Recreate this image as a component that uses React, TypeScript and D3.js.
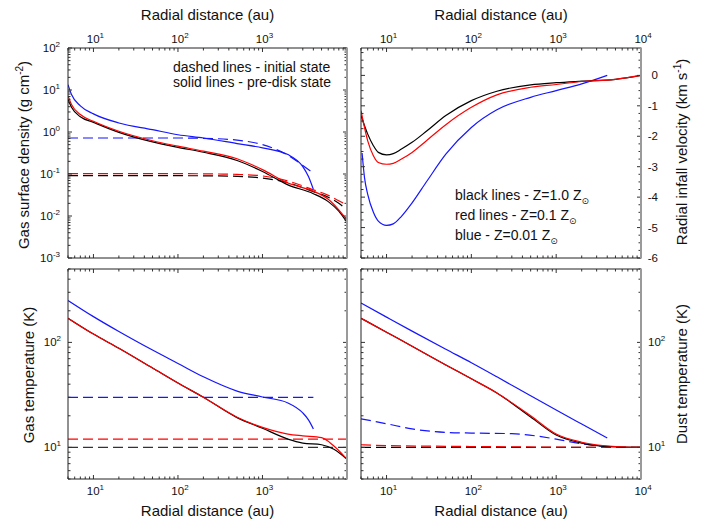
import React from "react";
import * as d3 from "d3";

const FONT = "Arial, 'Liberation Sans', Helvetica, sans-serif";

// ---------- Gas surface density (g cm^-2) ----------
const sigBlueR = [5, 5.5, 7, 10, 20, 50, 100, 200, 500, 1000, 2000, 3000, 3500, 4000];
const sigBlueSolid = [13.4, 7.8, 4.2, 2.7, 1.64, 1.14, 0.86, 0.72, 0.53, 0.42, 0.29, 0.15, 0.087, 0.043];
const sigBlueDashR = [5, 100, 300, 500, 1000, 2000, 3000, 4000];
const sigBlueDash = [0.72, 0.72, 0.69, 0.64, 0.5, 0.28, 0.16, 0.105];
const sigR = [5, 5.5, 7, 10, 20, 50, 100, 200, 500, 1000, 2000, 4000, 6000, 8000, 10000];
const sigRedSolid = [7.3, 4.5, 2.6, 1.8, 1.04, 0.62, 0.46, 0.35, 0.23, 0.127, 0.061, 0.039, 0.025, 0.014, 0.008];
const sigBlackSolid = [6.0, 3.9, 2.3, 1.7, 0.98, 0.58, 0.43, 0.33, 0.21, 0.115, 0.055, 0.034, 0.022, 0.013, 0.007];
const sigDashR = [5, 100, 300, 500, 1000, 2000, 4000, 6000, 8000, 10000];
const sigRedDash = [0.102, 0.102, 0.1, 0.098, 0.09, 0.068, 0.042, 0.031, 0.023, 0.018];
const sigBlackDash = [0.091, 0.091, 0.09, 0.088, 0.08, 0.062, 0.038, 0.028, 0.02, 0.014];

// ---------- Radial infall velocity (km s^-1) ----------
const velR = [5, 6, 7, 8, 10, 12, 15, 20, 30, 50, 100, 200, 500, 1000, 2000, 5000, 10000];
const velBlack = [-1.32, -1.93, -2.31, -2.53, -2.61, -2.57, -2.42, -2.2, -1.82, -1.32, -0.83, -0.52, -0.31, -0.24, -0.19, -0.13, 0];
const velRed = [-1.16, -2.15, -2.64, -2.86, -2.92, -2.89, -2.75, -2.53, -2.13, -1.62, -1.05, -0.64, -0.39, -0.3, -0.2, -0.13, 0];
const velBlueR = [5.15, 5.5, 6, 7, 8, 10, 12, 15, 20, 30, 50, 100, 200, 500, 1000, 2000, 4000];
const velBlue = [-2.55, -3.36, -3.91, -4.5, -4.79, -4.93, -4.88, -4.63, -4.19, -3.47, -2.59, -1.71, -1.13, -0.72, -0.5, -0.28, 0];

// ---------- Gas temperature (K) ----------
const tgR = [5, 10, 20, 50, 100, 200, 500, 1000, 2000, 3000, 5000, 7000, 10000];
const tgRed = [170, 120, 88, 57, 41, 30, 19.4, 15.5, 13.4, 12.9, 12.4, 10.3, 7.7];
const tgBlack = [170, 120, 88, 57, 41, 30, 19.2, 15.2, 12, 11, 10.6, 9.6, 7.7];
const tgBlueR = [5, 10, 20, 50, 100, 200, 500, 1000, 2000, 3000, 3500, 4000];
const tgBlue = [251, 176, 127, 84.5, 63, 47, 34.4, 30.2, 26.5, 21.3, 18.3, 15];
const tgBlueDashR = [5, 4000];
const tgBlueDash = [30, 30];
const tgDashR = [5, 10000];
const tgRedDash = [12, 12];
const tgBlackDash = [10, 10];

// ---------- Dust temperature (K) ----------
const tdBlueR = [5, 10, 20, 50, 100, 200, 500, 1000, 2000, 4000];
const tdBlue = [237, 174, 128, 86, 64, 47, 31, 22.7, 16.7, 12.3];
const tdR = [5, 10, 20, 50, 100, 200, 500, 1000, 2000, 5000, 10000];
const tdRed = [170, 125, 92, 61, 45, 33, 20, 13.4, 11.2, 10.2, 10];
const tdBlack = [170, 125, 92, 61, 45, 33, 19.5, 13.1, 11, 10.1, 10];
const tdBlueDashR = [5, 10, 20, 50, 100, 300, 1000, 2000, 4000];
const tdBlueDash = [18.7, 16.8, 15.0, 13.9, 13.7, 13.5, 12, 10.8, 10.2];
const tdRedDashR = [5, 10, 100, 1000, 10000];
const tdRedDash = [10.6, 10.4, 10.2, 10.05, 10];
const tdBlackDashR = [5, 10000];
const tdBlackDash = [10, 10];

// ---------- tick labels ----------
const xExpLeft = [1, 2, 3];
const xExpRight = [1, 2, 3, 4];
const sigExp = [-3, -2, -1, 0, 1, 2];
const velTicks = [0, -1, -2, -3, -4, -5, -6];
const tempExp = [1, 2];

const BLUE = "#1515ff";
const RED = "#ff0000";
const BLACK = "#000000";

type S = { r: number[]; v: number[]; color: string; dash?: boolean };

function logTicks(lo: number, hi: number) {
  const major: number[] = [];
  const minor: number[] = [];
  for (let e = Math.floor(Math.log10(lo)) - 1; e <= Math.ceil(Math.log10(hi)); e++) {
    for (let k = 1; k <= 9; k++) {
      const v = k * Math.pow(10, e);
      if (v < lo * 0.9999 || v > hi * 1.0001) continue;
      if (k === 1) major.push(v);
      else minor.push(v);
    }
  }
  return { major, minor };
}

function Panel(props: {
  id: string;
  xs: any;
  ys: any;
  xt: { major: number[]; minor: number[] };
  yt: { major: number[]; minor: number[] };
  series: S[];
}) {
  const { id, xs, ys, xt, yt, series } = props;
  const [x0, x1] = xs.range();
  const [y1, y0] = ys.range();
  const line = d3
    .line<[number, number]>()
    .x((d) => xs(d[0]))
    .y((d) => ys(d[1]))
    .curve(d3.curveMonotoneX);
  const MJ = 4;
  const MN = 2.5;
  const tc = "#333";
  const ticks: JSX.Element[] = [];
  const addX = (v: number, len: number, k: string) => {
    const px = xs(v);
    ticks.push(<line key={"xb" + k} x1={px} x2={px} y1={y1} y2={y1 - len} stroke={tc} strokeWidth={1} />);
    ticks.push(<line key={"xt" + k} x1={px} x2={px} y1={y0} y2={y0 + len} stroke={tc} strokeWidth={1} />);
  };
  const addY = (v: number, len: number, k: string) => {
    const py = ys(v);
    ticks.push(<line key={"yl" + k} x1={x0} x2={x0 + len} y1={py} y2={py} stroke={tc} strokeWidth={1} />);
    ticks.push(<line key={"yr" + k} x1={x1} x2={x1 - len} y1={py} y2={py} stroke={tc} strokeWidth={1} />);
  };
  xt.major.forEach((v, i) => addX(v, MJ, "M" + i));
  xt.minor.forEach((v, i) => addX(v, MN, "m" + i));
  yt.major.forEach((v, i) => addY(v, MJ, "M" + i));
  yt.minor.forEach((v, i) => addY(v, MN, "m" + i));
  return (
    <g>
      <defs>
        <clipPath id={id}>
          <rect x={x0} y={y0} width={x1 - x0} height={y1 - y0} />
        </clipPath>
      </defs>
      <g clipPath={`url(#${id})`}>
        {series.map((s, i) => (
          <path
            key={i}
            d={line(s.r.map((r, j) => [r, s.v[j]] as [number, number])) || ""}
            fill="none"
            stroke={s.color}
            strokeWidth={1.2}
            strokeDasharray={s.dash ? "10,5" : undefined}
          />
        ))}
      </g>
      {ticks}
      <line x1={x0} x2={x0} y1={y0} y2={y1} stroke="#222" strokeWidth={1} />
      <line x1={x0} x2={x1} y1={y0} y2={y0} stroke="#222" strokeWidth={1} />
      <line x1={x0} x2={x1} y1={y1} y2={y1} stroke="#222" strokeWidth={1} />
      <line x1={x1} x2={x1} y1={y0 - 0.5} y2={y1 + 0.5} stroke="#9a9a9a" strokeWidth={2} />
    </g>
  );
}

function Pow(props: { x: number; y: number; exp: number; anchor?: string }) {
  const { x, y, exp, anchor } = props;
  return (
    <text x={x} y={y} textAnchor={anchor || "middle"} fontSize={11.5} fontFamily={FONT} fill="#111">
      10
      <tspan dy={-5} fontSize={8}>
        {exp}
      </tspan>
    </text>
  );
}

function Sun() {
  return (
    <tspan dy={4} fontSize={9} fontFamily="'DejaVu Sans', sans-serif">
      ⊙
    </tspan>
  );
}

export default function App() {
  const xL = d3.scaleLog().domain([5, 10000]).range([68, 347]);
  const xR = d3.scaleLog().domain([5, 10000]).range([361, 641]);
  const top0 = 48, top1 = 258, bot0 = 269, bot1 = 479;
  const ySig = d3.scaleLog().domain([1e-3, 1e2]).range([top1, top0]);
  const yVel = d3.scaleLinear().domain([-6, 0.9]).range([top1, top0]);
  const yTg = d3.scaleLog().domain([5, 500]).range([bot1, bot0]);
  const yTd = d3.scaleLog().domain([5, 500]).range([bot1, bot0]);

  const xt = logTicks(5, 10000);
  const sigT = logTicks(1e-3, 1e2);
  const tT = logTicks(5, 500);
  const velMajor = d3.range(-6, 0.01, 1);
  const velMinor = d3.range(-6, 0.9, 0.25).filter((v) => Math.abs(v - Math.round(v)) > 0.01);

  const sigSeries: S[] = [
    { r: sigBlueDashR, v: sigBlueDash, color: BLUE, dash: true },
    { r: sigDashR, v: sigBlackDash, color: BLACK, dash: true },
    { r: sigDashR, v: sigRedDash, color: RED, dash: true },
    { r: sigBlueR, v: sigBlueSolid, color: BLUE },
    { r: sigR, v: sigBlackSolid, color: BLACK },
    { r: sigR, v: sigRedSolid, color: RED },
  ];
  const velSeries: S[] = [
    { r: velBlueR, v: velBlue, color: BLUE },
    { r: velR, v: velBlack, color: BLACK },
    { r: velR, v: velRed, color: RED },
  ];
  const tgSeries: S[] = [
    { r: tgBlueDashR, v: tgBlueDash, color: BLUE, dash: true },
    { r: tgDashR, v: tgBlackDash, color: "#333", dash: true },
    { r: tgDashR, v: tgRedDash, color: RED, dash: true },
    { r: tgBlueR, v: tgBlue, color: BLUE },
    { r: tgR, v: tgBlack, color: BLACK },
    { r: tgR, v: tgRed, color: RED },
  ];
  const tdSeries: S[] = [
    { r: tdBlackDashR, v: tdBlackDash, color: BLACK, dash: true },
    { r: tdRedDashR, v: tdRedDash, color: RED, dash: true },
    { r: tdBlueDashR, v: tdBlueDash, color: BLUE, dash: true },
    { r: tdBlueR, v: tdBlue, color: BLUE },
    { r: tdR, v: tdBlack, color: BLACK },
    { r: tdR, v: tdRed, color: RED },
  ];

  const titleSize = 15;
  const legSize = 14;

  return (
    <svg
      width={712}
      height={524}
      viewBox="0 0 712 524"
      style={{ position: "absolute", left: 0, top: 0, background: "#fff" }}
      fontFamily={FONT}
    >
      <rect x={0} y={0} width={712} height={524} fill="#fff" />
      <Panel id="c1" xs={xL} ys={ySig} xt={xt} yt={sigT} series={sigSeries} />
      <Panel id="c2" xs={xR} ys={yVel} xt={xt} yt={{ major: velMajor, minor: velMinor }} series={velSeries} />
      <Panel id="c3" xs={xL} ys={yTg} xt={xt} yt={tT} series={tgSeries} />
      <Panel id="c4" xs={xR} ys={yTd} xt={xt} yt={tT} series={tdSeries} />

      {/* top x titles */}
      <text x={207.5} y={20} textAnchor="middle" fontSize={titleSize} fill="#111">Radial distance (au)</text>
      <text x={501} y={20} textAnchor="middle" fontSize={titleSize} fill="#111">Radial distance (au)</text>
      {/* bottom x titles */}
      <text x={207.5} y={516} textAnchor="middle" fontSize={titleSize} fill="#111">Radial distance (au)</text>
      <text x={501} y={516} textAnchor="middle" fontSize={titleSize} fill="#111">Radial distance (au)</text>

      {/* top x tick labels */}
      {xExpLeft.map((e) => (
        <Pow key={"tl" + e} x={xL(Math.pow(10, e)) + 2} y={43} exp={e} />
      ))}
      {xExpRight.map((e) => (
        <Pow key={"tr" + e} x={xR(Math.pow(10, e)) + 2} y={43} exp={e} />
      ))}
      {/* bottom x tick labels */}
      {xExpLeft.map((e) => (
        <Pow key={"bl" + e} x={xL(Math.pow(10, e)) + 2} y={495} exp={e} />
      ))}
      {xExpRight.map((e) => (
        <Pow key={"br" + e} x={xR(Math.pow(10, e)) + 2} y={495} exp={e} />
      ))}

      {/* y tick labels */}
      {sigExp.map((e) => (
        <Pow key={"sy" + e} x={60} y={ySig(Math.pow(10, e)) + 4} exp={e} anchor="end" />
      ))}
      {velTicks.map((v) => (
        <text key={"vy" + v} x={658} y={yVel(v) + 4} textAnchor="end" fontSize={11.5} fill="#111">
          {v}
        </text>
      ))}
      {tempExp.map((e) => (
        <Pow key={"gy" + e} x={61} y={yTg(Math.pow(10, e)) + 4} exp={e} anchor="end" />
      ))}
      {tempExp.map((e) => (
        <Pow key={"dy" + e} x={648} y={yTd(Math.pow(10, e)) + 4} exp={e} anchor="start" />
      ))}

      {/* y titles */}
      <text transform="translate(29,155) rotate(-90)" textAnchor="middle" fontSize={titleSize} fill="#111">
        Gas surface density (g cm
        <tspan dy={-6} fontSize={10}>-2</tspan>
        <tspan dy={6}>)</tspan>
      </text>
      <text transform="translate(34,375) rotate(-90)" textAnchor="middle" fontSize={titleSize} fill="#111">
        Gas temperature (K)
      </text>
      <text transform="translate(687,152) rotate(-90)" textAnchor="middle" fontSize={titleSize} fill="#111">
        Radial infall velocity (km s
        <tspan dy={-6} fontSize={10}>-1</tspan>
        <tspan dy={6}>)</tspan>
      </text>
      <text transform="translate(687,374) rotate(-90)" textAnchor="middle" fontSize={titleSize} fill="#111">
        Dust temperature (K)
      </text>

      {/* legends */}
      <text x={173} y={72} fontSize={legSize} fill="#111">dashed lines - initial state</text>
      <text x={173} y={87} fontSize={legSize} fill="#111">solid lines - pre-disk state</text>

      <text x={455} y={200} fontSize={legSize} fill="#111">
        black lines - Z=1.0 Z<Sun />
      </text>
      <text x={455} y={220} fontSize={legSize} fill="#111">
        red lines - Z=0.1 Z<Sun />
      </text>
      <text x={455} y={240} fontSize={legSize} fill="#111">
        blue - Z=0.01 Z<Sun />
      </text>
    </svg>
  );
}
